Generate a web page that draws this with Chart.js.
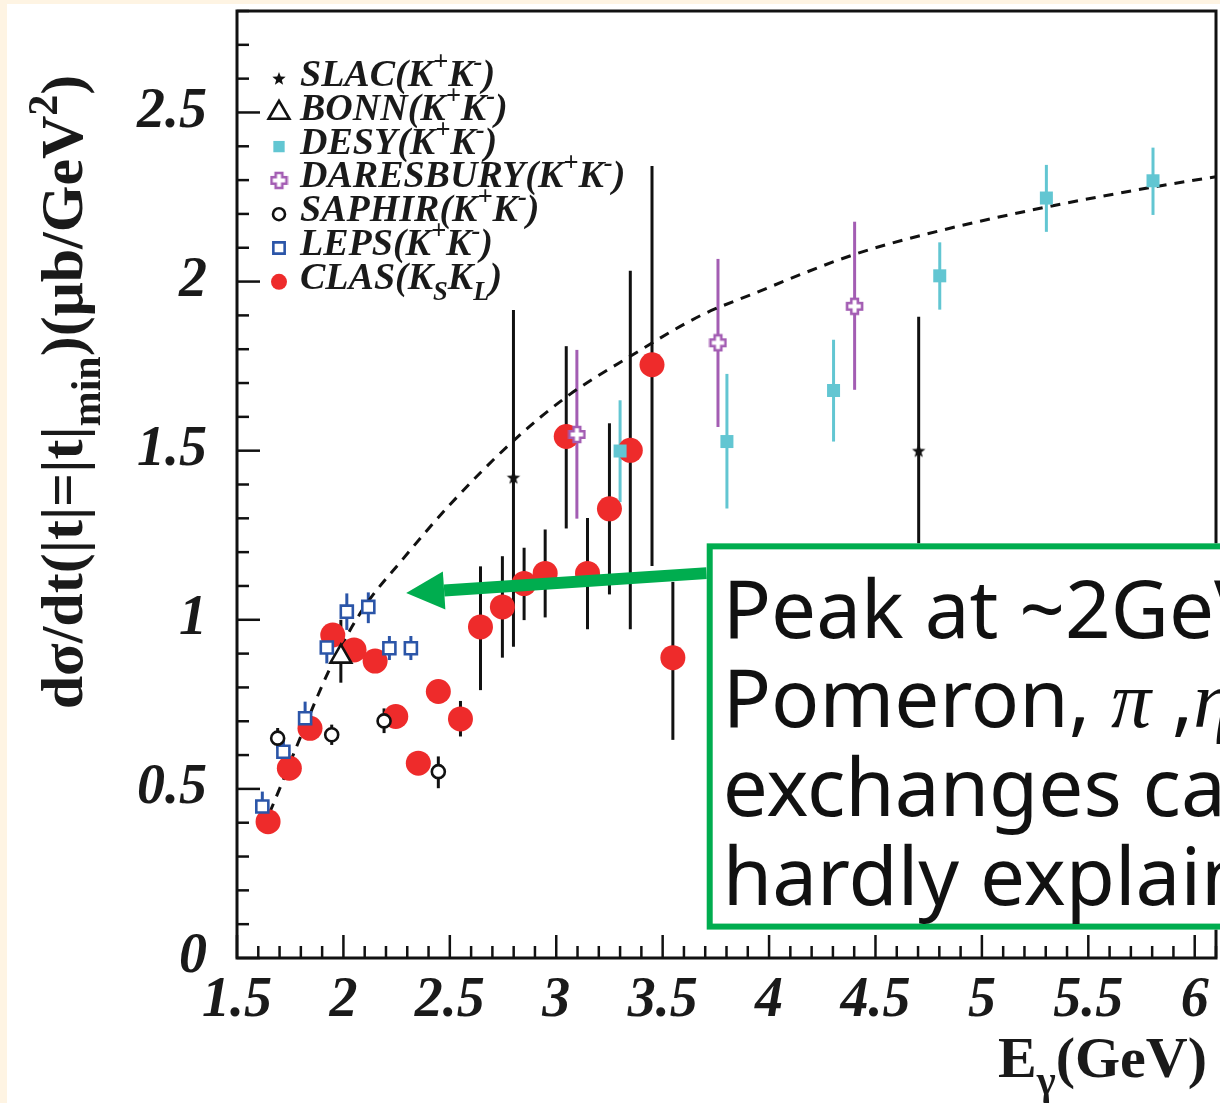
<!DOCTYPE html>
<html>
<head>
<meta charset="utf-8">
<script src="https://cdn.jsdelivr.net/npm/chart.js@4.4.0/dist/chart.umd.min.js"></script>
<style>
  html, body { margin: 0; padding: 0; background: #fef4e3; overflow: hidden; }
  #wrap { position: relative; width: 1220px; height: 1103px; }
</style>
</head>
<body>
<div id="wrap"><canvas id="xsec" width="1220" height="1103"></canvas></div>
<script>
// photon energy E_gamma (GeV), dsigma/dt at |t|min (ub/GeV^2), error bar ends
var clasE  = [1.646, 1.746, 1.843, 1.950, 2.050, 2.149, 2.246, 2.352, 2.446, 2.550, 2.644, 2.747, 2.849, 2.948, 3.047, 3.147, 3.250, 3.348, 3.450, 3.548];
var clasXs = [0.403, 0.561, 0.679, 0.955, 0.911, 0.878, 0.714, 0.576, 0.788, 0.707, 0.979, 1.038, 1.107, 1.137, 1.542, 1.137, 1.328, 1.501, 1.754, 0.888];
var clasLo = [0.403, 0.561, 0.679, 0.955, 0.911, 0.878, 0.714, 0.576, 0.788, 0.655, 0.792, 0.888, 0.999, 1.007, 1.270, 0.972, 1.075, 0.972, 1.159, 0.645];
var clasHi = [0.403, 0.561, 0.679, 0.955, 0.911, 0.878, 0.714, 0.576, 0.788, 0.760, 1.158, 1.188, 1.213, 1.267, 1.809, 1.301, 1.581, 2.032, 2.342, 1.112];

var lepsE  = [1.619, 1.718, 1.820, 1.922, 2.016, 2.117, 2.216, 2.317];
var lepsXs = [0.448, 0.610, 0.709, 0.918, 1.024, 1.038, 0.916, 0.916];
var lepsLo = [0.404, 0.562, 0.660, 0.871, 0.970, 0.990, 0.881, 0.881];
var lepsHi = [0.492, 0.645, 0.758, 0.970, 1.078, 1.081, 0.952, 0.952];

var saphirE  = [1.691, 1.945, 2.191, 2.446];
var saphirXs = [0.650, 0.660, 0.701, 0.551];
var saphirLo = [0.620, 0.630, 0.665, 0.502];
var saphirHi = [0.680, 0.690, 0.738, 0.596];

var bonnE  = [1.988];
var bonnXs = [0.891];
var bonnLo = [0.814];
var bonnHi = [1.000];

var slacE  = [2.799, 4.703];
var slacXs = [1.419, 1.498];
var slacLo = [0.920, 1.100];
var slacHi = [1.916, 1.896];

var desyE  = [3.300, 3.802, 4.303, 4.802, 5.303, 5.804];
var desyXs = [1.499, 1.527, 1.678, 2.017, 2.247, 2.298];
var desyLo = [1.348, 1.329, 1.527, 1.917, 2.147, 2.197];
var desyHi = [1.649, 1.727, 1.828, 2.116, 2.345, 2.396];

var daresE  = [3.097, 3.760, 4.402];
var daresXs = [1.548, 1.819, 1.927];
var daresLo = [1.299, 1.570, 1.680];
var daresHi = [1.798, 2.067, 2.177];

// model curve (dashed)
var curveE  = [1.62, 1.70, 1.78, 1.94, 2.09, 2.28, 2.50, 2.80, 3.05, 3.35, 3.68, 3.91, 4.40, 4.80, 5.30, 5.81, 6.10];
var curveXs = [0.38, 0.50, 0.625, 0.86, 1.03, 1.18, 1.34, 1.53, 1.66, 1.78, 1.90, 1.96, 2.08, 2.15, 2.22, 2.28, 2.31];

// legend rows, top to bottom
var legendOrder = ['SLAC', 'BONN', 'DESY', 'DARESBURY', 'SAPHIR', 'LEPS', 'CLAS'];

var xTitle = 'E_{γ}(GeV)';
var yTitle = 'dσ/dt(|t|=|t|_{min})(μb/GeV^{2})';
var noteLines = ['Peak at ~2GeV,', 'Pomeron, π ,η', 'exchanges can', 'hardly explain'];
// note box and arrow, in axis units
var noteBox = { x0: 3.707, x1: 7.0, yTop: 1.226, yBot: 0.084 };
var noteArrow = { fromX: 3.707, fromY: 1.138, toX: 2.295, toY: 1.079 };

var GREEN = '#00ad4f';
var SERIF = '"Liberation Serif", "Times New Roman", serif';

function pts(xs, ys) {
  return xs.map(function (x, i) { return { x: x, y: ys[i] }; });
}

// little canvases for the star and the open-cross markers
function starIcon(r) {
  var c = document.createElement('canvas');
  c.width = c.height = Math.ceil(r * 2 + 2);
  var g = c.getContext('2d'), m = c.width / 2;
  g.beginPath();
  for (var i = 0; i < 10; i++) {
    var a = -Math.PI / 2 + i * Math.PI / 5, rr = i % 2 ? r * 0.42 : r;
    g.lineTo(m + rr * Math.cos(a), m + rr * Math.sin(a));
  }
  g.closePath();
  g.fillStyle = '#111';
  g.fill();
  return c;
}
function crossIcon(s, col) {
  var c = document.createElement('canvas');
  c.width = c.height = Math.ceil(s + 4);
  var g = c.getContext('2d'), m = c.width / 2, a = s / 2, b = s * 0.22;
  g.beginPath();
  g.moveTo(m - b, m - a); g.lineTo(m + b, m - a); g.lineTo(m + b, m - b); g.lineTo(m + a, m - b);
  g.lineTo(m + a, m + b); g.lineTo(m + b, m + b); g.lineTo(m + b, m + a); g.lineTo(m - b, m + a);
  g.lineTo(m - b, m + b); g.lineTo(m - a, m + b); g.lineTo(m - a, m - b); g.lineTo(m - b, m - b);
  g.closePath();
  g.fillStyle = '#fff';
  g.fill();
  g.lineWidth = 2.6;
  g.strokeStyle = col;
  g.stroke();
  return c;
}

// tiny ^{} / _{} markup reader for the labels
function parseTex(s) {
  var parts = [], re = /([_^])\{([^}]*)\}|([^_^]+)/g, m;
  while ((m = re.exec(s))) {
    if (m[3]) parts.push({ t: m[3], k: 0 });
    else parts.push({ t: m[2], k: m[1] === '^' ? 1 : -1 });
  }
  return parts;
}
function drawTex(ctx, s, x, y, size, style, align) {
  var parts = parseTex(s), w = 0;
  parts.forEach(function (p) {
    p.size = p.k ? size * 0.7 : size;
    p.font = style + ' ' + p.size + 'px ' + SERIF;
    ctx.font = p.font;
    p.w = ctx.measureText(p.t).width;
    w += p.w;
  });
  if (align === 'right') x -= w;
  if (align === 'center') x -= w / 2;
  ctx.textAlign = 'left';
  ctx.textBaseline = 'alphabetic';
  parts.forEach(function (p) {
    ctx.font = p.font;
    var dy = p.k === 1 ? -0.42 * size : (p.k === -1 ? 0.3 * size : 0);
    ctx.fillText(p.t, x, y + dy);
    x += p.w;
  });
}

var errorBars = {
  id: 'errorBars',
  beforeDraw: function (chart) {
    var ctx = chart.ctx;
    ctx.save();
    ctx.fillStyle = '#fef4e3';
    ctx.fillRect(0, 0, chart.width, chart.height);
    ctx.fillStyle = '#ffffff';
    ctx.fillRect(7, 4, chart.width, chart.height);
    ctx.restore();
  },
  beforeDatasetsDraw: function (chart) {
    var ctx = chart.ctx, xs = chart.scales.x, ys = chart.scales.y;
    ctx.save();
    chart.data.datasets.forEach(function (ds) {
      if (!ds.errLo) return;
      ctx.strokeStyle = ds.errColor;
      ctx.lineWidth = ds.errWidth || 3;
      ds.data.forEach(function (p, i) {
        if (ds.errLo[i] === ds.errHi[i]) return;
        var px = xs.getPixelForValue(p.x);
        ctx.beginPath();
        ctx.moveTo(px, ys.getPixelForValue(ds.errLo[i]));
        ctx.lineTo(px, ys.getPixelForValue(ds.errHi[i]));
        ctx.stroke();
      });
    });
    ctx.restore();
  }
};

var decorations = {
  id: 'decorations',
  afterDatasetsDraw: function (chart) {
    var ctx = chart.ctx, a = chart.chartArea, xs = chart.scales.x, ys = chart.scales.y;
    ctx.save();

    // frame
    ctx.strokeStyle = '#111';
    ctx.lineWidth = 3;
    ctx.strokeRect(a.left, a.top, a.right - a.left, a.bottom - a.top);

    // inward ticks, long on every 0.5
    ctx.lineWidth = 2.5;
    function isMajor(v) { return Math.abs(v * 2 - Math.round(v * 2)) < 1e-6; }
    xs.ticks.forEach(function (t) {
      var px = xs.getPixelForValue(t.value), L = isMajor(t.value) ? 23 : 12;
      ctx.beginPath(); ctx.moveTo(px, a.bottom); ctx.lineTo(px, a.bottom - L); ctx.stroke();
    });
    ys.ticks.forEach(function (t) {
      var py = ys.getPixelForValue(t.value), L = isMajor(t.value) ? 23 : 12;
      ctx.beginPath(); ctx.moveTo(a.left, py); ctx.lineTo(a.left + L, py); ctx.stroke();
    });

    // legend
    var lx = a.left + 42, ly = a.top + 68, step = 33.8;
    legendOrder.forEach(function (name) {
      var ds = chart.data.datasets.filter(function (d) { return d.label === name; })[0];
      var o = ds.legendPoint;
      ctx.save();
      ctx.fillStyle = ds.backgroundColor;
      ctx.strokeStyle = ds.borderColor || '#111';
      ctx.lineWidth = o.borderWidth || 0;
      Chart.helpers.drawPoint(ctx, { pointStyle: ds.pointStyle, radius: o.radius, rotation: 0, borderWidth: o.borderWidth || 0 }, lx, ly);
      ctx.restore();
      ctx.fillStyle = '#1a1a1a';
      drawTex(ctx, ds.legendText, lx + 21, ly + 7, 38, 'italic bold', 'left');
      ly += step;
    });

    // arrow
    var x0 = xs.getPixelForValue(noteArrow.fromX), y0 = ys.getPixelForValue(noteArrow.fromY);
    var x1 = xs.getPixelForValue(noteArrow.toX), y1 = ys.getPixelForValue(noteArrow.toY);
    var ang = Math.atan2(y1 - y0, x1 - x0), head = 38, half = 19;
    var bx = x1 - head * Math.cos(ang), by = y1 - head * Math.sin(ang);
    ctx.strokeStyle = GREEN;
    ctx.fillStyle = GREEN;
    ctx.lineWidth = 12;
    ctx.beginPath(); ctx.moveTo(x0, y0); ctx.lineTo(bx, by); ctx.stroke();
    ctx.beginPath();
    ctx.moveTo(x1, y1);
    ctx.lineTo(bx - half * Math.sin(ang), by + half * Math.cos(ang));
    ctx.lineTo(bx + half * Math.sin(ang), by - half * Math.cos(ang));
    ctx.closePath();
    ctx.fill();

    // note box
    var bl = xs.getPixelForValue(noteBox.x0), br = xs.getPixelForValue(noteBox.x1);
    var bt = ys.getPixelForValue(noteBox.yTop), bb = ys.getPixelForValue(noteBox.yBot);
    ctx.fillStyle = '#fff';
    ctx.fillRect(bl, bt, br - bl, bb - bt);
    ctx.lineWidth = 6;
    ctx.strokeStyle = GREEN;
    ctx.strokeRect(bl + 3, bt + 3, br - bl, bb - bt - 6);
    ctx.fillStyle = '#111';
    ctx.textBaseline = 'alphabetic';
    ctx.textAlign = 'left';
    noteLines.forEach(function (line, i) {
      var tx = bl + 16, ty = bt + 95 + i * 89;
      line.split(/([πη])/).forEach(function (seg) {
        if (!seg) return;
        ctx.font = /[πη]/.test(seg) ? 'italic 80px ' + SERIF : '80px "Noto Sans", sans-serif';
        ctx.fillText(seg, tx, ty);
        tx += ctx.measureText(seg).width;
      });
    });

    // axis titles
    ctx.fillStyle = '#1a1a1a';
    drawTex(ctx, xTitle, a.right - 9, 1077, 58, 'bold', 'right');
    ctx.translate(82, 392);
    ctx.rotate(-Math.PI / 2);
    drawTex(ctx, yTitle, 0, 0, 60, 'bold', 'center');
    ctx.restore();
  }
};

var tickFont = { family: SERIF, size: 56, style: 'italic', weight: 'bold' };
function halfLabel(v) {
  return Math.abs(v * 2 - Math.round(v * 2)) < 1e-6 ? String(Math.round(v * 2) / 2) : '';
}

var ctx = document.getElementById('xsec').getContext('2d');
var xsecChart = new Chart(ctx, {
  type: 'scatter',
  data: {
    datasets: [
      { label: 'DARESBURY', data: pts(daresE, daresXs), pointStyle: crossIcon(15, '#a35db3'), backgroundColor: '#a35db3', pointRadius: 8,
        errLo: daresLo, errHi: daresHi, errColor: '#a35db3', legendText: 'DARESBURY(K^{+}K^{-})', legendPoint: { radius: 8 }, order: 1 },
      { label: 'SLAC', data: pts(slacE, slacXs), pointStyle: starIcon(7), backgroundColor: '#111', pointRadius: 7,
        errLo: slacLo, errHi: slacHi, errColor: '#111', legendText: 'SLAC(K^{+}K^{-})', legendPoint: { radius: 7 }, order: 2 },
      { label: 'BONN', data: pts(bonnE, bonnXs), pointStyle: 'triangle', backgroundColor: '#fff', borderColor: '#111', borderWidth: 2.6, pointRadius: 12,
        errLo: bonnLo, errHi: bonnHi, errColor: '#111', legendText: 'BONN(K^{+}K^{-})', legendPoint: { radius: 12, borderWidth: 2.6 }, order: 3 },
      { label: 'DESY', data: pts(desyE, desyXs), pointStyle: 'rect', backgroundColor: '#62c6d2', borderWidth: 0, pointRadius: 9.2,
        errLo: desyLo, errHi: desyHi, errColor: '#62c6d2', legendText: 'DESY(K^{+}K^{-})', legendPoint: { radius: 8 }, order: 4 },
      { label: 'SAPHIR', data: pts(saphirE, saphirXs), pointStyle: 'circle', backgroundColor: '#fff', borderColor: '#111', borderWidth: 2.6, pointRadius: 6.5,
        errLo: saphirLo, errHi: saphirHi, errColor: '#111', legendText: 'SAPHIR(K^{+}K^{-})', legendPoint: { radius: 6, borderWidth: 2.6 }, order: 5 },
      { label: 'LEPS', data: pts(lepsE, lepsXs), pointStyle: 'rect', backgroundColor: '#fff', borderColor: '#2b55a8', borderWidth: 2.6, pointRadius: 8.5,
        errLo: lepsLo, errHi: lepsHi, errColor: '#2b55a8', legendText: 'LEPS(K^{+}K^{-})', legendPoint: { radius: 8, borderWidth: 2.6 }, order: 6 },
      { label: 'CLAS', data: pts(clasE, clasXs), pointStyle: 'circle', backgroundColor: '#ee2b2b', borderWidth: 0, pointRadius: 12.5,
        errLo: clasLo, errHi: clasHi, errColor: '#111', legendText: 'CLAS(K_{S}K_{L})', legendPoint: { radius: 8 }, order: 7 },
      { type: 'line', label: 'model', data: pts(curveE, curveXs), borderColor: '#111', borderWidth: 3, borderDash: [10, 8],
        pointRadius: 0, fill: false, cubicInterpolationMode: 'monotone', order: 8 }
    ]
  },
  options: {
    responsive: false,
    animation: false,
    events: [],
    layout: { autoPadding: false, padding: { left: 0, right: 4, top: 11, bottom: 0 } },
    plugins: { legend: { display: false }, tooltip: { enabled: false } },
    scales: {
      x: {
        type: 'linear', min: 1.5, max: 6.1,
        grid: { display: false, drawTicks: false },
        border: { display: false },
        ticks: { stepSize: 0.1, autoSkip: false, maxRotation: 0, padding: 10, color: '#1a1a1a', font: tickFont, callback: halfLabel },
        afterFit: function (s) { s.height = 145; s.paddingLeft = 0; s.paddingRight = 0; }
      },
      y: {
        type: 'linear', min: 0, max: 2.8,
        grid: { display: false, drawTicks: false },
        border: { display: false },
        ticks: { stepSize: 0.1, autoSkip: false, padding: 30, color: '#1a1a1a', font: tickFont, callback: halfLabel },
        afterFit: function (s) { s.width = 237; s.paddingTop = 0; s.paddingBottom = 0; }
      }
    }
  },
  plugins: [errorBars, decorations]
});
</script>
</body>
</html>
